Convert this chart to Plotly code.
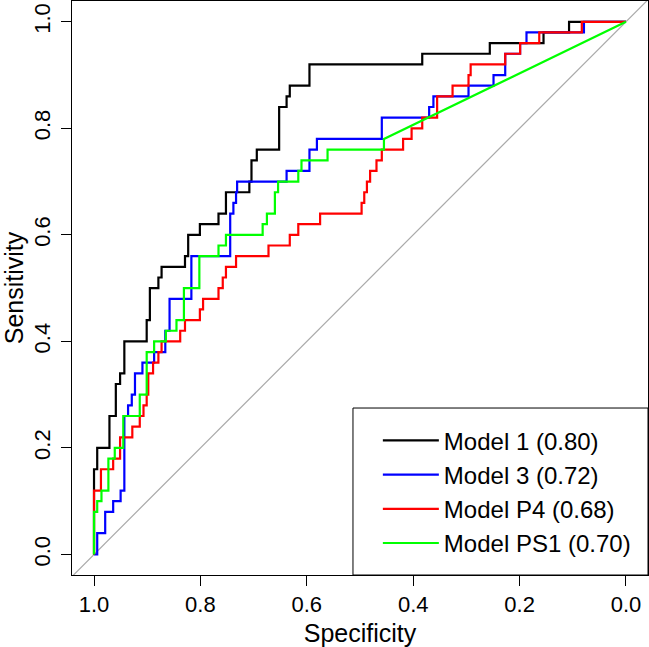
import plotly.graph_objects as go

# ---- data (ROC curve corner points) ----
model1_spec = [1.0, 1.0, 0.994, 0.994, 0.971, 0.971, 0.959, 0.959, 0.951, 0.951, 0.943, 0.943,
               0.901, 0.901, 0.895, 0.895, 0.879, 0.879, 0.873, 0.873, 0.829, 0.829, 0.823, 0.823,
               0.801, 0.801, 0.766, 0.766, 0.752, 0.752, 0.708, 0.708, 0.704, 0.704, 0.694, 0.694,
               0.652, 0.652, 0.638, 0.638, 0.632, 0.632, 0.595, 0.595, 0.383, 0.383, 0.256, 0.256,
               0.155, 0.155, 0.107, 0.107, 0.0]
model1_sens = [0.0, 0.16, 0.16, 0.20, 0.20, 0.26, 0.26, 0.32, 0.32, 0.34, 0.34, 0.40,
               0.40, 0.44, 0.44, 0.50, 0.50, 0.52, 0.52, 0.54, 0.54, 0.56, 0.56, 0.60,
               0.60, 0.62, 0.62, 0.64, 0.64, 0.68, 0.68, 0.70, 0.70, 0.74, 0.74, 0.76,
               0.76, 0.84, 0.84, 0.86, 0.86, 0.88, 0.88, 0.92, 0.92, 0.94, 0.94, 0.96,
               0.96, 0.98, 0.98, 1.0, 1.0]

model3_spec = [1.0, 0.994, 0.994, 0.979, 0.979, 0.964, 0.964, 0.950, 0.950, 0.943, 0.943, 0.936,
               0.936, 0.929, 0.929, 0.923, 0.923, 0.909, 0.909, 0.887, 0.887, 0.866, 0.866, 0.858,
               0.858, 0.817, 0.817, 0.744, 0.744, 0.738, 0.738, 0.733, 0.733, 0.731, 0.731, 0.638,
               0.638, 0.595, 0.595, 0.581, 0.581, 0.459, 0.459, 0.370, 0.370, 0.362, 0.362, 0.296,
               0.296, 0.249, 0.249, 0.227, 0.227, 0.199, 0.199, 0.187, 0.187, 0.079, 0.079, 0.0]
model3_sens = [0.0, 0.0, 0.04, 0.04, 0.08, 0.08, 0.10, 0.10, 0.12, 0.12, 0.26, 0.26,
               0.28, 0.28, 0.30, 0.30, 0.34, 0.34, 0.36, 0.36, 0.38, 0.38, 0.42, 0.42,
               0.48, 0.48, 0.56, 0.56, 0.64, 0.64, 0.66, 0.66, 0.68, 0.68, 0.70, 0.70,
               0.72, 0.72, 0.76, 0.76, 0.78, 0.78, 0.82, 0.82, 0.84, 0.84, 0.86, 0.86,
               0.88, 0.88, 0.90, 0.90, 0.94, 0.94, 0.96, 0.96, 0.98, 0.98, 1.0, 1.0]

modelP4_spec = [1.0, 1.0, 0.987, 0.987, 0.964, 0.964, 0.951, 0.951, 0.928, 0.928, 0.914, 0.914,
                0.907, 0.907, 0.901, 0.901, 0.898, 0.898, 0.889, 0.889, 0.879, 0.879, 0.873, 0.873,
                0.838, 0.838, 0.829, 0.829, 0.801, 0.801, 0.795, 0.795, 0.766, 0.766, 0.758, 0.758,
                0.752, 0.752, 0.733, 0.733, 0.672, 0.672, 0.632, 0.632, 0.616, 0.616, 0.575, 0.575,
                0.497, 0.497, 0.492, 0.492, 0.487, 0.487, 0.481, 0.481, 0.469, 0.469, 0.459, 0.459,
                0.419, 0.419, 0.403, 0.403, 0.383, 0.383, 0.355, 0.355, 0.326, 0.326, 0.296, 0.296,
                0.292, 0.292, 0.227, 0.227, 0.199, 0.199, 0.163, 0.163, 0.083, 0.083, 0.0]
modelP4_sens = [0.0, 0.12, 0.12, 0.16, 0.16, 0.18, 0.18, 0.22, 0.22, 0.24, 0.24, 0.26,
                0.26, 0.28, 0.28, 0.30, 0.30, 0.34, 0.34, 0.36, 0.36, 0.38, 0.38, 0.40,
                0.40, 0.42, 0.42, 0.44, 0.44, 0.46, 0.46, 0.48, 0.48, 0.50, 0.50, 0.52,
                0.52, 0.54, 0.54, 0.56, 0.56, 0.58, 0.58, 0.60, 0.60, 0.62, 0.62, 0.64,
                0.64, 0.66, 0.66, 0.68, 0.68, 0.70, 0.70, 0.72, 0.72, 0.74, 0.74, 0.76,
                0.76, 0.78, 0.78, 0.80, 0.80, 0.82, 0.82, 0.86, 0.86, 0.88, 0.88, 0.90,
                0.90, 0.92, 0.92, 0.94, 0.94, 0.96, 0.96, 0.98, 0.98, 1.0, 1.0]

modelPS1_spec = [1.0, 1.0, 0.994, 0.994, 0.986, 0.986, 0.973, 0.973, 0.961, 0.961, 0.945, 0.945,
                 0.914, 0.914, 0.901, 0.901, 0.887, 0.887, 0.865, 0.865, 0.845, 0.845, 0.831, 0.831,
                 0.802, 0.802, 0.766, 0.766, 0.752, 0.752, 0.683, 0.683, 0.675, 0.675, 0.660, 0.660,
                 0.654, 0.654, 0.616, 0.616, 0.610, 0.610, 0.561, 0.561, 0.455, 0.455, 0.0]
modelPS1_sens = [0.0, 0.08, 0.08, 0.10, 0.10, 0.12, 0.12, 0.18, 0.18, 0.20, 0.20, 0.26,
                 0.26, 0.30, 0.30, 0.38, 0.38, 0.40, 0.40, 0.42, 0.42, 0.44, 0.44, 0.50,
                 0.50, 0.56, 0.56, 0.58, 0.58, 0.60, 0.60, 0.62, 0.62, 0.64, 0.64, 0.68,
                 0.68, 0.70, 0.70, 0.72, 0.72, 0.74, 0.74, 0.76, 0.76, 0.78, 1.0]

series_names = ["Model 1 (0.80)", "Model 3 (0.72)", "Model P4 (0.68)", "Model PS1 (0.70)"]
series_colors = ["#000000", "#0000FF", "#FF0000", "#00FF00"]
tick_vals = [1.0, 0.8, 0.6, 0.4, 0.2, 0.0]
tick_text = ["1.0", "0.8", "0.6", "0.4", "0.2", "0.0"]

FONT = "Liberation Sans, Arial, Helvetica, sans-serif"
PAD = 0.0414

fig = go.Figure()

# identity line (corner to corner)
fig.add_trace(go.Scatter(x=[1 + 0.1, -0.1], y=[-0.1, 1 + 0.1], mode="lines",
                         line=dict(color="#A9A9A9", width=1.2), showlegend=False,
                         hoverinfo="skip"))

for xs, ys, name, col in zip(
        [model1_spec, model3_spec, modelP4_spec, modelPS1_spec],
        [model1_sens, model3_sens, modelP4_sens, modelPS1_sens],
        series_names, series_colors):
    fig.add_trace(go.Scatter(x=xs, y=ys, mode="lines", name=name,
                             line=dict(color=col, width=2.2)))

axis_common = dict(
    showgrid=False, zeroline=False, showline=True, linecolor="black", linewidth=1,
    mirror=True, ticks="outside", ticklen=10, tickwidth=1, tickcolor="black",
    tickvals=tick_vals, ticktext=tick_text,
    tickfont=dict(family=FONT, size=22, color="black"),
)

fig.update_layout(
    width=649, height=647,
    margin=dict(l=72, r=1, t=1, b=72, autoexpand=False),
    paper_bgcolor="white", plot_bgcolor="white",
    font=dict(family=FONT, color="black"),
    xaxis=dict(range=[1 + PAD, -PAD], title=dict(text="Specificity", standoff=8,
               font=dict(family=FONT, size=25)), ticklabelstandoff=0, **axis_common),
    yaxis=dict(range=[-0.0385, 1.039], title=dict(text="Sensitivity", standoff=10,
               font=dict(family=FONT, size=25)), tickangle=-90, ticklabelstandoff=2,
               **axis_common),
    legend=dict(x=0.531, y=0.273, xanchor="left", yanchor="top",
                bgcolor="rgba(0,0,0,0)", borderwidth=0,
                font=dict(family=FONT, size=24, color="black"), itemwidth=56),
    shapes=[dict(type="rect", xref="paper", yref="paper", x0=0.4878, x1=1.0,
                 y0=0.0, y1=0.2909, line=dict(color="black", width=1),
                 fillcolor="white", layer="below")],
)

fig.write_html("out.html", config={"displayModeBar": False},
               post_script="document.body.style.margin='0px';"
                           "document.body.style.overflow='hidden';")
